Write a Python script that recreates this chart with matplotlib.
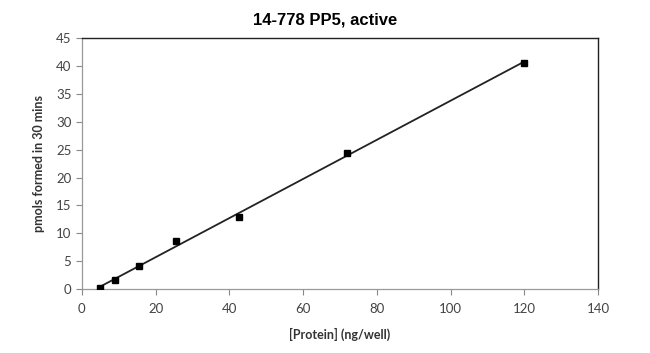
"""14-778 PP5, active - activity vs protein with linear trendline."""
import numpy as np
import matplotlib.pyplot as plt

protein = [5, 9, 15.5, 25.5, 42.6, 72, 120]
pmols = [0.2, 1.6, 4.1, 8.7, 12.9, 24.4, 40.6]
xticks = [0, 20, 40, 60, 80, 100, 120, 140]
yticks = [0, 5, 10, 15, 20, 25, 30, 35, 40, 45]

TICK_FONT = ["Lato", "DejaVu Sans"]


def render():
    fig = plt.figure(figsize=(6.5, 3.53), dpi=100)
    ax = fig.add_axes([0.126, 0.181, 0.794, 0.711])

    slope, icpt = np.polyfit(protein, pmols, 1)
    xs = np.array([min(protein), max(protein)])
    ax.plot(xs, slope * xs + icpt, color="#222222", lw=1.3, zorder=2)
    ax.plot(protein, pmols, ls="none", marker="s", ms=5, color="black", zorder=3)

    ax.set_xlim(0, 140)
    ax.set_ylim(0, 45)
    ax.set_xticks(xticks)
    ax.set_yticks(yticks)
    ax.tick_params(direction="out", length=4, width=0.8, color="#888888",
                   labelsize=9.5, labelcolor="#444444")
    ax.tick_params(axis="x", pad=6)
    for lab in ax.get_xticklabels() + ax.get_yticklabels():
        lab.set_family(TICK_FONT)
    for side in ("top", "right"):
        ax.spines[side].set_color("#222222")
        ax.spines[side].set_linewidth(1.0)
    for side in ("left", "bottom"):
        ax.spines[side].set_color("#999999")
        ax.spines[side].set_linewidth(0.9)

    ax.set_xlabel("[Protein] (ng/well)", fontsize=9, fontweight="bold",
                  family=TICK_FONT, color="#333333", labelpad=9)
    ax.set_ylabel("pmols formed in 30 mins", fontsize=9, fontweight="bold",
                  family=TICK_FONT, color="#333333", labelpad=8)
    fig.text(0.5, 0.943, "14-778 PP5, active", ha="center", va="center",
             fontsize=12, fontweight="bold", family=["Liberation Sans", "DejaVu Sans"])

    fig.savefig("out.png", dpi=100)
    plt.close(fig)


if __name__ == "__main__":
    render()
